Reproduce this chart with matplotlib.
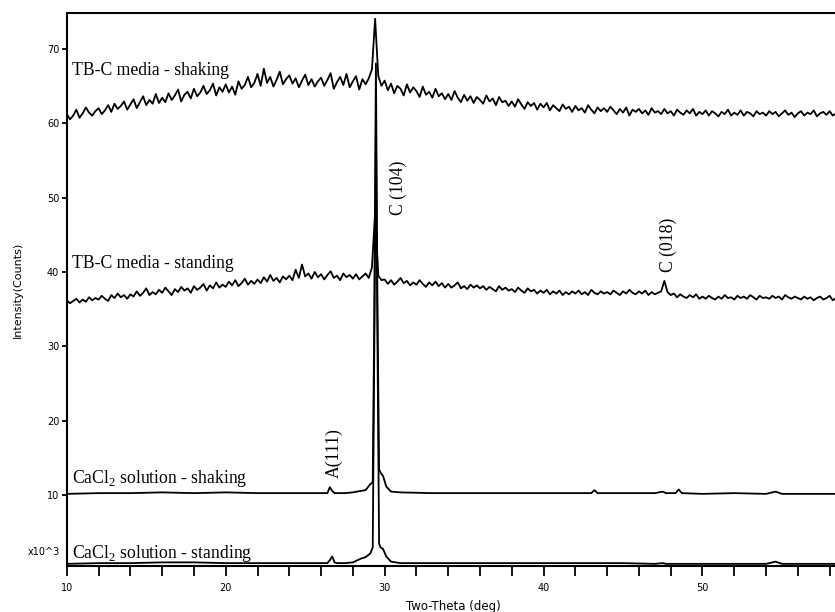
import matplotlib
matplotlib.use('Agg')
import matplotlib.pyplot as plt
from matplotlib.ticker import MultipleLocator
import numpy as np

plt.rcParams['mathtext.fontset'] = 'custom'
plt.rcParams['mathtext.rm'] = 'Liberation Serif'

# scan positions of the two TB-C patterns (0.2 deg step, 10 - 58.6 deg)
theta_tbc = np.round(np.arange(10.0, 58.61, 0.2), 2)

tbc_shaking = [
    61.2, 60.5, 61.0, 61.8, 60.7, 61.3, 62.1, 61.4, 61.0, 61.6,
    62.0, 61.2, 61.7, 62.4, 61.5, 62.6, 61.9, 62.3, 62.9, 61.8,
    62.5, 63.2, 62.0, 62.8, 63.6, 62.4, 63.1, 62.6, 63.9, 62.7,
    63.4, 62.8, 64.0, 63.1, 63.7, 64.5, 62.9, 63.8, 64.2, 63.3,
    64.6, 63.6, 64.1, 65.0, 63.9, 64.4, 65.3, 63.7, 64.8, 64.2,
    65.2, 64.1, 64.9, 63.8, 65.6, 64.6, 65.1, 66.2, 64.8, 65.4,
    66.6, 65.0, 67.3, 65.4, 66.2, 64.9, 65.8, 66.9, 65.2, 65.9,
    66.4, 65.3, 66.0, 64.8, 65.7, 66.5, 65.1, 65.9, 64.9, 65.6,
    66.1, 65.0, 65.8, 66.7, 64.6, 65.5, 66.2, 65.1, 66.6, 64.8,
    65.6, 66.3, 64.5, 65.9, 65.2, 66.0, 67.2, 74.0, 66.3, 65.0,
    65.7, 64.4, 65.3, 64.0, 65.0, 64.6, 63.7, 65.2, 64.1, 64.8,
    64.3, 63.5, 64.9, 63.8, 64.2, 63.4, 64.6, 63.6, 64.0, 63.2,
    63.9, 63.1, 64.3, 63.4, 62.8, 63.8, 63.0, 63.6, 62.7, 63.5,
    63.1, 62.6, 63.7, 62.9, 63.3, 62.4, 63.5, 62.8, 63.0, 62.3,
    62.9, 62.2, 63.2, 62.5, 61.9, 62.8, 62.3, 62.7, 61.8, 62.6,
    62.1, 62.7, 61.7, 62.4, 62.0, 61.6, 62.5, 61.9, 62.2, 61.5,
    62.3, 61.7, 62.0, 61.4, 62.4, 61.8, 61.3, 62.1, 61.6, 62.0,
    61.5, 62.2, 61.7, 61.2, 61.9, 61.4, 62.1, 61.0, 61.8, 61.5,
    61.9, 61.3, 61.7, 61.1, 62.0, 61.4, 61.6, 61.2, 61.9, 61.3,
    61.6, 61.0, 61.8, 61.4, 61.1, 61.7, 61.3, 61.9, 61.0, 61.5,
    61.2, 61.7, 61.0, 61.6, 61.3, 60.9, 61.5, 61.2, 61.8, 61.0,
    61.4, 61.1, 61.7, 61.0, 61.5, 61.3, 60.9, 61.6, 61.2, 61.4,
    61.0, 61.6, 61.2, 61.5, 60.9, 61.3, 61.7, 61.1, 61.4, 60.8,
    61.3, 61.6, 61.0, 61.4, 61.2, 61.7, 60.9, 61.3, 61.5, 61.1,
    61.6, 61.0, 61.3, 61.2,
]

tbc_standing = [
    36.2, 35.8, 36.1, 36.4, 35.9, 36.3, 36.0, 36.6, 36.2, 36.5,
    36.3, 36.8, 36.4, 36.1, 36.9, 36.5, 37.1, 36.6, 36.9, 36.4,
    37.0, 36.7, 37.4, 36.8, 37.2, 37.8, 36.9, 37.3, 37.0, 37.6,
    37.2, 37.9, 37.4, 36.9, 37.7, 37.3, 38.0, 37.5, 37.8, 37.2,
    38.1, 37.6, 37.9, 38.4, 37.5, 38.2, 37.8, 38.6, 37.9, 38.3,
    38.0, 38.7, 38.2, 38.9, 38.1, 38.5, 39.1, 38.3, 38.8, 38.4,
    39.0, 38.5, 39.3, 38.7, 39.6, 38.8, 39.2, 38.6, 39.4, 39.0,
    39.5, 38.9, 40.3, 39.2, 41.0, 39.4, 39.8, 39.1, 40.0, 39.3,
    39.7, 39.0, 39.6, 40.1, 39.2, 39.5, 38.9, 39.8, 39.3, 39.6,
    39.1, 39.7, 39.0, 39.4, 39.8, 39.2, 40.6, 48.0, 39.5, 38.9,
    39.0, 38.4, 38.9, 38.3, 38.7, 39.2, 38.5, 38.8, 38.2, 38.6,
    38.3, 38.9, 38.4, 38.0, 38.6, 38.2, 38.7, 38.1, 38.5, 37.9,
    38.4, 37.9, 38.2, 38.6, 37.8, 38.1, 37.7, 38.3, 37.9, 38.2,
    37.8, 38.1, 37.6, 38.0, 37.7, 37.4, 38.1, 37.6, 37.9, 37.5,
    37.7, 37.3, 37.9, 37.5, 37.2, 37.8, 37.4, 37.6, 37.1, 37.5,
    37.2, 37.6, 37.0, 37.4, 37.1, 37.5, 36.9, 37.3, 37.0, 37.4,
    37.1, 37.5, 37.0, 37.3, 36.9, 37.6, 37.2, 37.0, 37.4, 37.1,
    37.3, 37.0, 37.5, 37.2, 36.9, 37.4, 37.1, 37.6, 37.2, 37.0,
    37.4, 37.1, 37.5, 36.9, 37.3, 37.0, 37.2, 37.4, 38.8, 37.3,
    36.9, 37.1, 36.6, 37.0, 36.7, 36.5, 36.9, 36.6, 37.0, 36.4,
    36.7, 36.4, 36.8, 36.5, 36.3, 36.7, 36.4, 36.9, 36.5, 36.6,
    36.3, 36.8, 36.5, 36.7, 36.4, 36.9, 36.6, 36.3, 36.8, 36.5,
    36.6, 36.4, 36.8, 36.5, 36.7, 36.3, 36.9, 36.6, 36.4, 36.7,
    36.5, 36.3, 36.7, 36.4, 36.6, 36.2, 36.5, 36.7, 36.3, 36.5,
    36.8, 36.2, 36.5, 36.4,
]

# CaCl2 patterns are flat apart from the peaks
theta_cacl = [10, 12, 14, 16, 18, 20, 22, 24, 26, 26.4, 26.55, 26.7, 26.85,
              27.0, 27.5, 28.0, 28.5, 28.8, 29.1, 29.25, 29.35, 29.45, 29.55,
              29.65, 29.75, 29.9, 30.1, 30.4, 31, 33, 35, 37, 39, 41, 43,
              43.2, 43.4, 45, 47, 47.5, 47.7, 48.3, 48.5, 48.7, 50, 52, 54,
              54.6, 55, 57, 58.6]
cacl_shaking = [10.2, 10.3, 10.3, 10.4, 10.3, 10.4, 10.3, 10.3, 10.3, 10.3,
                11.1, 10.6, 10.3, 10.3, 10.3, 10.4, 10.6, 10.7, 11.5, 11.8,
                35.0, 68.0, 35.0, 13.5, 13.0, 12.6, 11.2, 10.5, 10.4, 10.3,
                10.3, 10.3, 10.3, 10.3, 10.3, 10.7, 10.3, 10.3, 10.3, 10.5,
                10.3, 10.3, 10.8, 10.3, 10.2, 10.3, 10.2, 10.5, 10.2, 10.2,
                10.2]
cacl_standing = [0.8, 0.9, 0.9, 1.0, 1.0, 0.9, 0.9, 0.9, 0.9, 0.9,
                 1.3, 1.8, 1.0, 0.9, 0.9, 1.0, 1.5, 1.7, 2.2, 3.0,
                 30.0, 60.0, 30.0, 3.5, 3.0, 2.8, 1.8, 1.1, 0.9, 0.9,
                 0.9, 0.9, 0.9, 0.9, 0.9, 0.9, 0.9, 0.9, 0.8, 0.9,
                 0.8, 0.8, 0.8, 0.8, 0.8, 0.8, 0.8, 1.1, 0.8, 0.8,
                 0.8]

fig = plt.figure(figsize=(8.35, 6.12), dpi=100)
ax = fig.add_axes([0.080, 0.075, 0.925, 0.904])

lw = 1.3
ax.plot(theta_tbc, tbc_shaking, color='black', lw=lw)
ax.plot(theta_tbc, tbc_standing, color='black', lw=lw)
ax.plot(theta_cacl, cacl_shaking, color='black', lw=lw)
ax.plot(theta_cacl, cacl_standing, color='black', lw=lw)

ax.set_xlim(10, 58.6)
ax.set_ylim(0.5, 74.8)
ax.xaxis.set_major_locator(MultipleLocator(10))
ax.xaxis.set_minor_locator(MultipleLocator(2))
ax.set_yticks([10, 20, 30, 40, 50, 60, 70])

for s in ['left', 'bottom', 'top']:
    ax.spines[s].set_linewidth(1.5)
ax.spines['right'].set_visible(False)

ax.tick_params(axis='x', which='both', direction='out', length=7, width=1.3,
               labelsize=7, pad=5)
ax.tick_params(axis='y', direction='out', length=3.5, width=1.3,
               labelsize=7, pad=2)

ax.set_xlabel('Two-Theta (deg)', fontsize=8.5, labelpad=5)
ax.set_ylabel('Intensity(Counts)', fontsize=8, labelpad=17)
fig.text(0.072, 1 - 552 / 612, 'x10^3', fontsize=7, ha='right', va='center')

serif = 'Liberation Serif'
fs = 12.7
ax.text(10.35, 66.4, 'TB-C media - shaking', family=serif, fontsize=fs, va='baseline')
ax.text(10.35, 40.5, 'TB-C media - standing', family=serif, fontsize=fs, va='baseline')
ax.text(10.35, 11.7, r'CaCl$_2$ solution - shaking', family=serif, fontsize=fs, va='baseline')
ax.text(10.35, 1.6, r'CaCl$_2$ solution - standing', family=serif, fontsize=fs, va='baseline')

ax.text(30.85, 47.6, 'C (104)', family=serif, fontsize=fs, rotation=90, ha='center', va='bottom')
ax.text(47.85, 40.0, 'C (018)', family=serif, fontsize=fs, rotation=90, ha='center', va='bottom')
ax.text(26.8, 12.3, 'A(111)', family=serif, fontsize=fs, rotation=90, ha='center', va='bottom')

plt.savefig('out.png', dpi=100)
